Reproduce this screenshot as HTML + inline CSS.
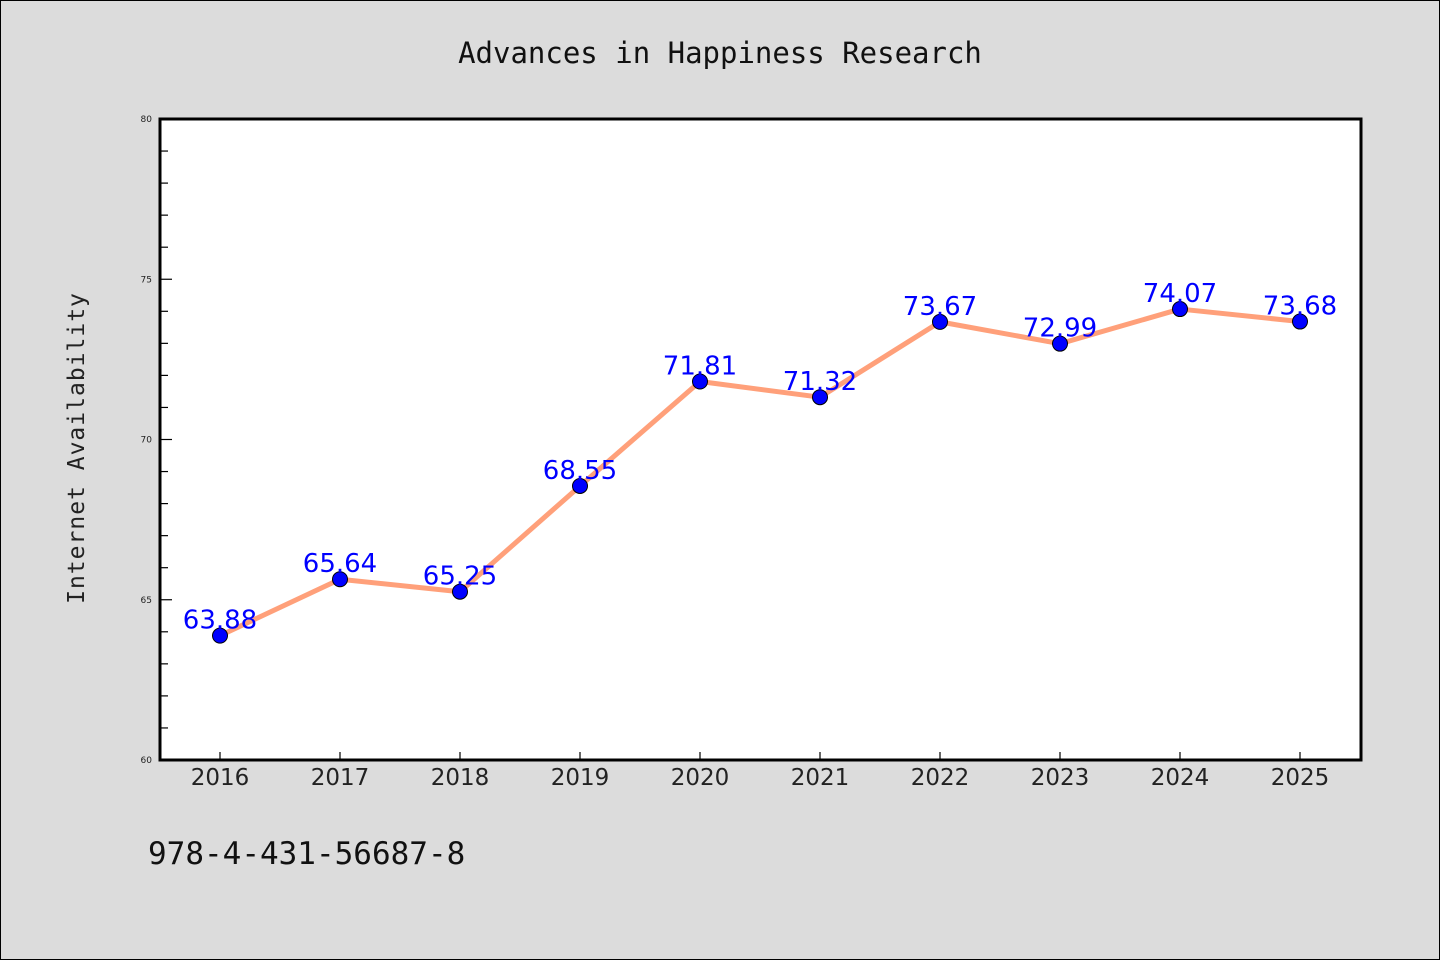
<!DOCTYPE html>
<html><head><meta charset="utf-8"><style>
body{margin:0;background:#dcdcdc;}
svg{display:block;}
</style></head><body>
<svg width="1440" height="960" xmlns="http://www.w3.org/2000/svg">
<rect x="0.5" y="0.5" width="1439" height="959" fill="#dcdcdc" stroke="#000" stroke-width="1"/>
<text x="720" y="63" text-anchor="middle" font-family="DejaVu Sans Mono, Liberation Mono, monospace" font-size="29" fill="#111">Advances in Happiness Research</text>
<rect x="160" y="119" width="1201" height="641" fill="#fff"/>
<g id="ticks"></g>
<path id="line" fill="none" stroke="#ffa07a" stroke-width="5" stroke-linejoin="round"/>
<g id="points"></g>
<rect x="160" y="119" width="1201" height="641" fill="none" stroke="#000" stroke-width="3"/>
<text transform="translate(84,448) rotate(-90)" text-anchor="middle" font-family="DejaVu Sans Mono, Liberation Mono, monospace" font-size="23" fill="#222" letter-spacing="1">Internet Availability</text>
<text x="148" y="864" font-family="DejaVu Sans Mono, Liberation Mono, monospace" font-size="31" fill="#111">978-4-431-56687-8</text>
</svg>
<script>
const categories=["2016","2017","2018","2019","2020","2021","2022","2023","2024","2025"];
const values=[63.88,65.64,65.25,68.55,71.81,71.32,73.67,72.99,74.07,73.68];
const yTicks=[60,65,70,75,80];
const NS="http://www.w3.org/2000/svg";
const L=160,R=1361,T=119,B=760,yMin=60,yMax=80;
const x=i=>220+i*((1300-220)/(categories.length-1));
const y=v=>B-(v-yMin)/(yMax-yMin)*(B-T);
function mk(t,a,p){const e=document.createElementNS(NS,t);for(const k in a)e.setAttribute(k,a[k]);p.appendChild(e);return e;}
const tg=document.getElementById('ticks');
for(let v=yMin;v<=yMax;v++){
  const major=yTicks.includes(v);
  const l=mk('line',{x1:L,x2:L+(major?12:8),y1:y(v),y2:y(v),stroke:'#000','stroke-width':1.2},tg);
  
  
}
yTicks.forEach(v=>{
  const t=mk('text',{x:152,y:y(v)+3,'text-anchor':'end','font-family':'DejaVu Sans, sans-serif','font-size':9,fill:'#222'},tg);
  t.textContent=v;
  
  
});
categories.forEach((c,i)=>{
  const l=mk('line',{x1:x(i),x2:x(i),y1:B,y2:B-8,stroke:'#000','stroke-width':1.2},tg);
  
  
  const t=mk('text',{x:x(i),y:785,'text-anchor':'middle','font-family':'DejaVu Sans, sans-serif','font-size':23,fill:'#222'},tg);
  t.textContent=c;
  
  
});
document.getElementById('line').setAttribute('d',values.map((v,i)=>(i?'L':'M')+x(i)+' '+y(v)).join(' '));
const pg=document.getElementById('points');
values.forEach((v,i)=>{
  const c=mk('circle',{cx:x(i),cy:y(v),r:7.5,fill:'#0000ff',stroke:'#000','stroke-width':1},pg);
  
  
  const t=mk('text',{x:x(i),y:y(v)-7,'text-anchor':'middle','font-family':'DejaVu Sans, sans-serif','font-size':26,fill:'#0000ff'},pg);
  t.textContent=v.toFixed(2);
  
  
});
</script>
</body></html>
